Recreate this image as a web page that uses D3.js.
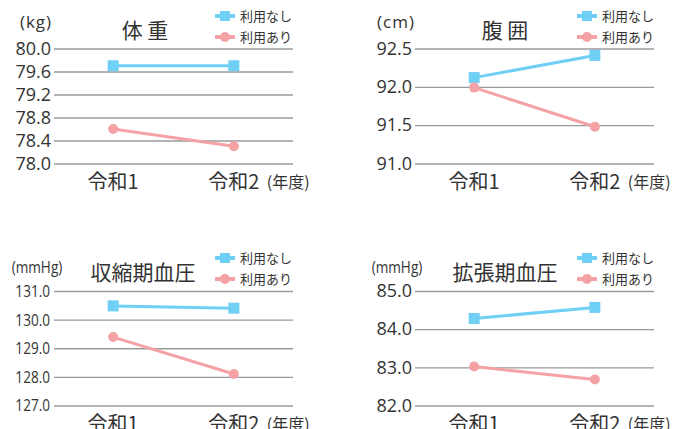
<!DOCTYPE html>
<html>
<head>
<meta charset="utf-8">
<script src="https://cdn.jsdelivr.net/npm/d3@7"></script>
<style>
  body { margin: 0; background: #fff; }
  svg { display: block; font-family: "Noto Sans CJK JP", "Open Sans", sans-serif; }
  .grid line { stroke: #9a9a9a; stroke-width: 1.3; }
  .grid path { display: none; }
  .grid text { fill: #333; }
</style>
</head>
<body>
<div id="chart"></div>
<script>
// data
var years = ["令和1", "令和2"];
var seriesNames = ["利用なし", "利用あり"];

var weightNone = [79.7, 79.7];
var weightUse = [78.6, 78.3];
var waistNone = [92.12, 92.41];
var waistUse = [91.99, 91.48];
var sysNone = [130.48, 130.4];
var sysUse = [129.39, 128.1];
var diaNone = [84.28, 84.57];
var diaUse = [83.02, 82.68];

var weightTicks = [78.0, 78.4, 78.8, 79.2, 79.6, 80.0];
var waistTicks = [91.0, 91.5, 92.0, 92.5];
var sysTicks = [127.0, 128.0, 129.0, 130.0, 131.0];
var diaTicks = [82.0, 83.0, 84.0, 85.0];

var colors = ["#6fcff5", "#f5a2a6"];

var svg = d3.select("#chart").append("svg")
  .attr("width", 675).attr("height", 429);

/**
 * Draw one small line chart panel.
 */
function drawPanel(p) {
  var g = svg.append("g");
  var x = d3.scalePoint().domain(years).range([p.left, p.right]).padding(0.49);
  var y = d3.scaleLinear().domain(d3.extent(p.ticks)).range([p.bottom, p.top]);

  // grid + tick labels
  var axis = g.append("g").attr("class", "grid")
    .attr("transform", "translate(" + p.left + ",0)")
    .call(d3.axisRight(y).tickValues(p.ticks).tickFormat(d3.format(".1f"))
      .tickSize(p.right - p.left).tickPadding(0));
  axis.selectAll("text")
    .attr("x", p.narrow ? -5 : -3)
    .attr("text-anchor", "end")
    .style("font-family", "'Open Sans', sans-serif")
    .style("font-size", p.tickSize + "px")
    .attr("transform", p.narrow ? "scale(0.8,1)" : null);

  // series lines
  var sets = [p.none, p.use];
  sets.forEach(function (vals, i) {
    var line = d3.line().x(function (d, j) { return x(years[j]); }).y(function (d) { return y(d); });
    g.append("path").datum(vals)
      .attr("d", line).attr("fill", "none")
      .attr("stroke", colors[i]).attr("stroke-width", 3);
    var pts = g.selectAll(".pt" + i).data(vals).enter();
    if (i == 0) {
      pts.append("rect")
        .attr("x", function (d, j) { return x(years[j]) - 5.5; })
        .attr("y", function (d) { return y(d) - 5.5; })
        .attr("width", 11).attr("height", 11).attr("fill", colors[0]);
    } else {
      pts.append("circle")
        .attr("cx", function (d, j) { return x(years[j]); })
        .attr("cy", function (d) { return y(d); })
        .attr("r", 5).attr("fill", colors[1]);
    }
  });

  // x labels
  g.selectAll(".xl").data(years).enter().append("text")
    .attr("x", function (d) { return x(d); })
    .attr("y", p.bottom + 25)
    .attr("text-anchor", "middle")
    .attr("fill", "#333")
    .style("font-size", "20px")
    .text(function (d) { return d; });
  g.append("text")
    .attr("x", x(years[1]) + 33).attr("y", p.bottom + 24)
    .attr("fill", "#333").style("font-size", "16px")
    .text("(年度)");

  // title + unit
  g.append("text")
    .attr("x", p.titleX).attr("y", p.top - 11)
    .attr("text-anchor", "middle").attr("fill", "#333")
    .style("font-size", "21px")
    .text(p.title);
  g.append("text")
    .attr("x", p.unitX).attr("y", p.unitY)
    .attr("text-anchor", "middle").attr("fill", "#333")
    .style("font-family", "'Open Sans', sans-serif")
    .style("font-size", p.unitNarrow ? "17px" : "17px")
    .style("letter-spacing", p.unitNarrow ? "0px" : "1px")
    .attr("transform", p.unitNarrow ? "translate(" + (p.unitX * 0.2) + ",0) scale(0.8,1)" : null)
    .text(p.unit);

  // legend
  var lg = g.selectAll(".lg").data(seriesNames).enter().append("g")
    .attr("transform", function (d, i) { return "translate(" + p.legX + "," + (p.legY + i * 21) + ")"; });
  lg.append("line").attr("x1", 0).attr("x2", 20)
    .attr("stroke", function (d, i) { return colors[i]; }).attr("stroke-width", 4);
  lg.each(function (d, i) {
    var sel = d3.select(this);
    if (i == 0) sel.append("rect").attr("x", 5).attr("y", -5).attr("width", 10).attr("height", 10).attr("fill", colors[0]);
    else sel.append("circle").attr("cx", 10).attr("r", 5).attr("fill", colors[1]);
  });
  lg.append("text").attr("x", 25).attr("y", 5)
    .attr("fill", "#333").style("font-size", "13px")
    .text(function (d) { return d; });
}

drawPanel({ left: 54, right: 293, top: 48.5, bottom: 163.5, ticks: weightTicks, none: weightNone, use: weightUse,
  title: "体 重", titleX: 145, unit: "(kg)", unitX: 36, unitY: 28, legX: 215, legY: 16, tickSize: 18 });
drawPanel({ left: 415, right: 654, top: 48.5, bottom: 163.5, ticks: waistTicks, none: waistNone, use: waistUse,
  title: "腹 囲", titleX: 505, unit: "(cm)", unitX: 396, unitY: 28, legX: 577, legY: 16, tickSize: 18 });
drawPanel({ left: 54, right: 293, top: 291, bottom: 405.5, ticks: sysTicks, none: sysNone, use: sysUse,
  title: "収縮期血圧", titleX: 143, unit: "(mmHg)", unitX: 37, unitY: 273, legX: 215, legY: 258, tickSize: 17, narrow: true, unitNarrow: true });
drawPanel({ left: 415, right: 654, top: 291, bottom: 405.5, ticks: diaTicks, none: diaNone, use: diaUse,
  title: "拡張期血圧", titleX: 505, unit: "(mmHg)", unitX: 397, unitY: 273, legX: 577, legY: 258, tickSize: 18, narrow: false, unitNarrow: true });
</script>
</body>
</html>
